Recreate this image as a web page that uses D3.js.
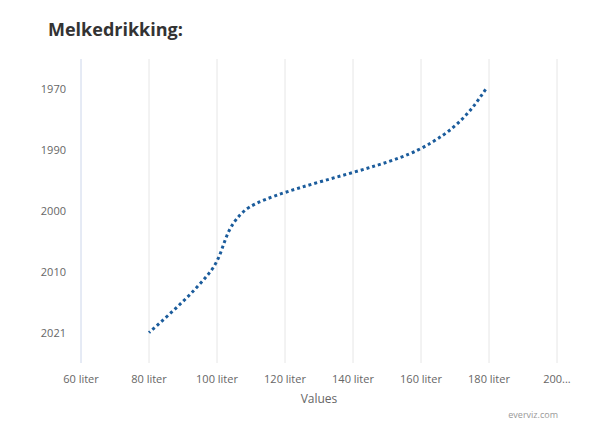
<!DOCTYPE html>
<html><head><meta charset="utf-8">
<script src="https://cdn.jsdelivr.net/npm/d3@7"></script>
<style>body{margin:0;background:#fff;font-family:"Open Sans",sans-serif}</style>
</head><body><svg id="c" width="614" height="439"></svg>
<script>
const years = ["1970", "1990", "2000", "2010", "2021"];
const values = [179, 159, 108, 98, 80];
const xTicks = [60, 80, 100, 120, 140, 160, 180, 200];

const svg = d3.select("#c");
const m = { left: 81, right: 557, top: 59, bottom: 363 };
const x = d3.scaleLinear().domain([60, 200]).range([m.left, m.right]);
const y = d3.scaleBand().domain(years).range([m.top, m.bottom]);
const yc = d => y(d) + y.bandwidth() / 2;

svg.append("text").attr("x", 48).attr("y", 36).attr("font-size", 18).attr("font-weight", "bold")
  .attr("fill", "#333").text("Melkedrikking:");

svg.append("g").selectAll("line").data(xTicks.slice(1)).join("line")
  .attr("x1", d => x(d)).attr("x2", d => x(d)).attr("y1", m.top).attr("y2", m.bottom)
  .attr("stroke", "#e6e6e6");
svg.append("line").attr("x1", m.left).attr("x2", m.left).attr("y1", m.top).attr("y2", m.bottom)
  .attr("stroke", "#ccd6eb");

svg.append("g").selectAll("text").data(xTicks).join("text")
  .attr("x", d => x(d)).attr("y", 383).attr("text-anchor", "middle").attr("font-size", 11)
  .attr("fill", "#666").text(d => d === 200 ? "200..." : d + " liter");
svg.append("g").selectAll("text").data(years).join("text")
  .attr("x", 66).attr("y", d => yc(d) + 4).attr("text-anchor", "end").attr("font-size", 11)
  .attr("fill", "#666").text(d => d);

svg.append("text").attr("x", (m.left + m.right) / 2).attr("y", 403).attr("text-anchor", "middle")
  .attr("font-size", 12).attr("fill", "#666").text("Values");
svg.append("text").attr("x", 558).attr("y", 418).attr("text-anchor", "end")
  .attr("font-size", 9).attr("fill", "#999").text("everviz.com");

const line = d3.line().x(d => x(d[1])).y(d => yc(d[0])).curve(d3.curveMonotoneY);
svg.append("path").datum(years.map((yr, i) => [yr, values[i]]))
  .attr("d", line).attr("fill", "none").attr("stroke", "#1b5c9c")
  .attr("stroke-width", 3).attr("stroke-dasharray", "3,3");
</script></body></html>
